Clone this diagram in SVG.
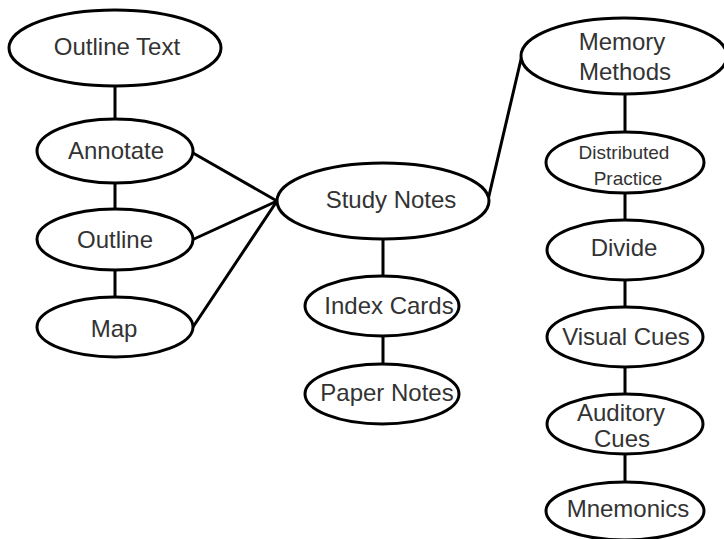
<svg xmlns="http://www.w3.org/2000/svg" width="724" height="539" viewBox="0 0 724 539">
<style>
.n ellipse{fill:#fff;stroke:#000;stroke-width:3}
.c line{stroke:#000;stroke-width:3;stroke-linecap:round}
text{font-family:"Liberation Sans","DejaVu Sans",sans-serif;font-size:24px;fill:#333;text-anchor:middle}
text.s{font-size:19px}
</style>
<rect width="724" height="539" fill="#fff"/>
<g id="connectors" class="c">
<line x1="115" y1="86" x2="115" y2="119"/>
<line x1="115" y1="183" x2="115" y2="209"/>
<line x1="115" y1="270" x2="115" y2="297"/>
<line x1="193" y1="153" x2="277" y2="201"/>
<line x1="194" y1="239" x2="277" y2="201"/>
<line x1="193" y1="327" x2="277" y2="201"/>
<line x1="488" y1="200" x2="522" y2="55"/>
<line x1="383" y1="239" x2="383" y2="276"/>
<line x1="383" y1="336" x2="383" y2="364"/>
<line x1="625" y1="94" x2="625" y2="132"/>
<line x1="625" y1="193" x2="625" y2="220"/>
<line x1="625" y1="280" x2="625" y2="307"/>
<line x1="625" y1="367" x2="625" y2="394"/>
<line x1="625" y1="454" x2="625" y2="482"/>
</g>
<g id="outline-text" class="n"><ellipse cx="115" cy="48" rx="106" ry="38"/><text x="117" y="55">Outline Text</text></g>
<g id="annotate" class="n"><ellipse cx="115" cy="151" rx="78" ry="32"/><text x="116" y="159">Annotate</text></g>
<g id="outline" class="n"><ellipse cx="115" cy="239.5" rx="78" ry="30.5"/><text x="115" y="248">Outline</text></g>
<g id="map" class="n"><ellipse cx="115" cy="327" rx="78" ry="30"/><text x="114" y="337">Map</text></g>
<g id="study-notes" class="n"><ellipse cx="383" cy="201" rx="106" ry="38"/><text x="391" y="208">Study Notes</text></g>
<g id="index-cards" class="n"><ellipse cx="382" cy="306" rx="77" ry="30"/><text x="389" y="314">Index Cards</text></g>
<g id="paper-notes" class="n"><ellipse cx="382" cy="394" rx="77" ry="30"/><text x="387" y="401">Paper Notes</text></g>
<g id="memory-methods" class="n"><ellipse cx="624" cy="56" rx="103" ry="38"/><text x="622" y="50">Memory</text><text x="625" y="80">Methods</text></g>
<g id="distributed-practice" class="n"><ellipse cx="625" cy="162.5" rx="79" ry="30.5"/><text class="s" x="624" y="159">Distributed</text><text class="s" x="628" y="185">Practice</text></g>
<g id="divide" class="n"><ellipse cx="625" cy="250" rx="78" ry="30"/><text x="624" y="256">Divide</text></g>
<g id="visual-cues" class="n"><ellipse cx="625" cy="337" rx="78" ry="30"/><text x="626" y="345">Visual Cues</text></g>
<g id="auditory-cues" class="n"><ellipse cx="625" cy="424" rx="78" ry="30"/><text x="621" y="421">Auditory</text><text x="622" y="447">Cues</text></g>
<g id="mnemonics" class="n"><ellipse cx="625" cy="511" rx="79" ry="29"/><text x="628" y="517">Mnemonics</text></g>
</svg>
